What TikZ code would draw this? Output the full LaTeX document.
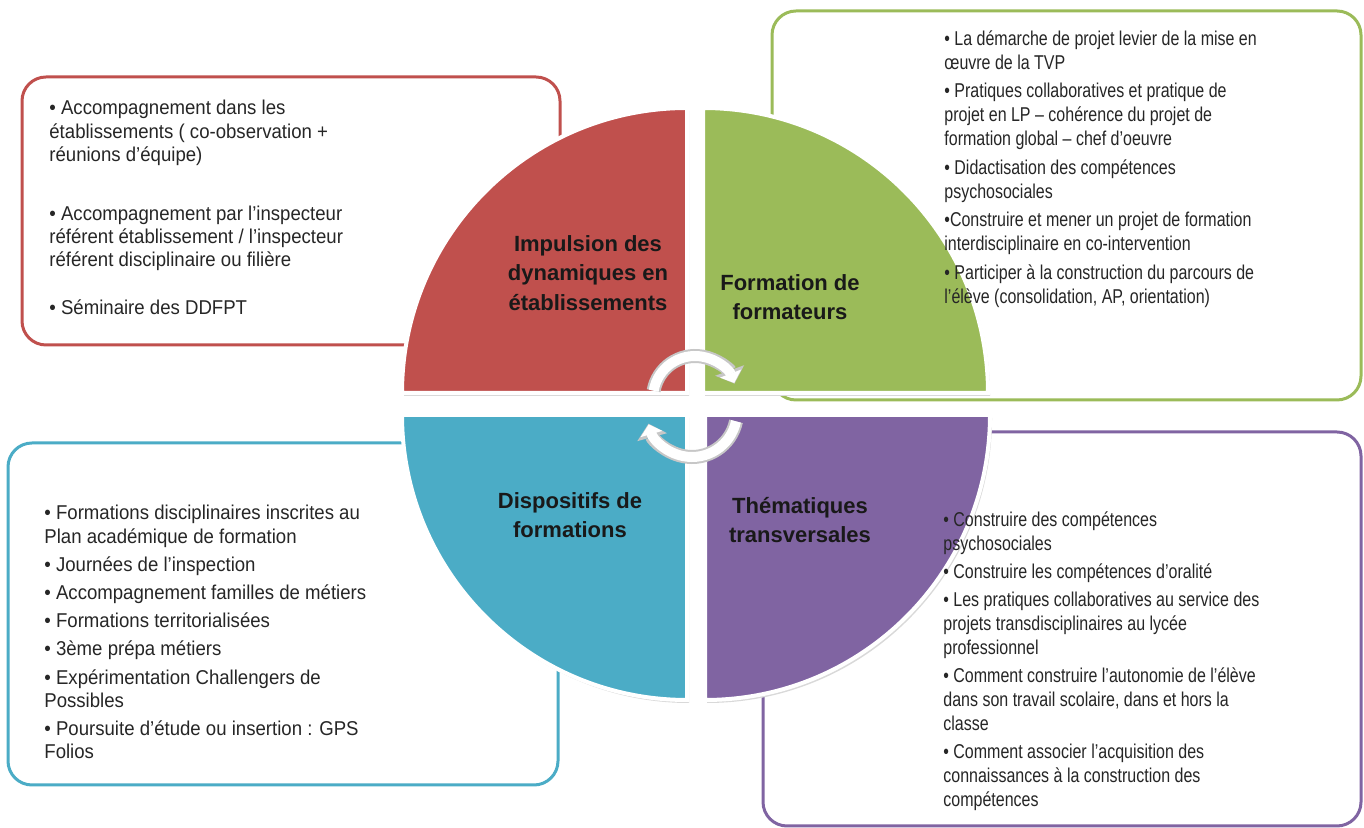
\documentclass[tikz,border=0pt]{standalone}
\usepackage{fontspec}
\setmainfont{Liberation Sans}
\newfontfamily\midsans{Liberation Sans}[FakeStretch=0.93]
\newfontfamily\narrowsans{Liberation Sans}[FakeStretch=0.8]
\usetikzlibrary{arrows.meta}
\definecolor{cr}{HTML}{C0504D}
\definecolor{cg}{HTML}{9BBB59}
\definecolor{cb}{HTML}{4BACC6}
\definecolor{cp}{HTML}{8064A2}
\definecolor{ink}{HTML}{262626}
\tikzset{
  infobox/.style={draw=#1,line width=1.5pt,rounded corners=12pt,fill=white},
  quarter/.style={fill=#1,draw=white,line width=2pt},
  items/.style={anchor=north west,inner sep=0pt,align=left,text=ink},
  wideitems/.style={items,font=\midsans\fontsize{10}{11.6}\selectfont},
  narrowitems/.style={items,font=\narrowsans\fontsize{10}{12}\selectfont},
  quadtitle/.style={align=center,inner sep=0pt,text=black!90,font=\bfseries\fontsize{11}{14.75}\selectfont},
}

\begin{document}
\begin{tikzpicture}[x=0.5pt,y=0.5pt]
  \useasboundingbox (0,0) rectangle (1364,828);
  % frames behind the disc
  \draw[infobox=cr] (22,483) rectangle (560,751);
  \draw[infobox=cg] (772,428) rectangle (1361,817);
  \draw[infobox=cb] (8,43) rectangle (558,385);
  \draw[infobox=cp] (763,2) rectangle (1361,396);
  % the four quarters
  \foreach \cx/\cy/\a in {687/435/90, 703/435/0, 687/413/180, 705/413/270}
    \fill[black!15] (\cx+2,\cy-3) -- ++(\a:285) arc (\a:\a+90:285) -- cycle;
  \foreach \cx/\cy/\a/\col in {687/435/90/cr, 703/435/0/cg, 687/413/180/cb, 705/413/270/cp}
    \filldraw[quarter=\col] (\cx,\cy) -- ++(\a:285) arc (\a:\a+90:285) -- cycle;
  \node[quadtitle] (impulsion) at (588,555) {Impulsion des\\dynamiques en\\établissements};
  \node[quadtitle] (formation) at (790,531) {Formation de\\formateurs};
  \node[quadtitle] (dispositifs) at (570,313) {Dispositifs de\\formations};
  \node[quadtitle] (thematiques) at (800,308) {Thématiques\\transversales};
  % cycle in the middle
  \draw[line width=7pt,draw=black!22,-{Triangle[width=15pt,length=7pt]}] ([shift={(170:42)}]695,430) arc (170:20:42);
  \draw[line width=5pt,draw=white,-{Triangle[width=11pt,length=5pt]}] ([shift={(170:42)}]695,430) arc (170:21:42);
  \draw[line width=7pt,draw=black!22,-{Triangle[width=15pt,length=7pt]}] ([shift={(-12:45)}]692,416) arc (-12:-165:45);
  \draw[line width=5pt,draw=white,-{Triangle[width=11pt,length=5pt]}] ([shift={(-12:45)}]692,416) arc (-12:-164:45);
  % lists
  \node[wideitems] (impulsion items) at (49,728) {• Accompagnement dans les\\établissements ( co-observation +\\réunions d’équipe)\\[18pt]• Accompagnement par l’inspecteur\\référent établissement / l’inspecteur\\référent disciplinaire ou filière\\[12pt]• Séminaire des DDFPT};
  \node[narrowitems] (formation items) at (944,798) {• La démarche de projet levier de la mise en\\œuvre de la TVP\\[2.25pt]• Pratiques collaboratives et pratique de\\projet en LP – cohérence du projet de\\formation global – chef d’oeuvre\\[2.25pt]• Didactisation des compétences\\psychosociales\\[2.25pt]•Construire et mener un projet de formation\\interdisciplinaire en co-intervention\\[2.25pt]• Participer à la construction du parcours de\\l’élève (consolidation, AP, orientation)};
  \node[wideitems] (dispositifs items) at (44,323) {• Formations disciplinaires inscrites au\\Plan académique de formation\\[2.5pt]• Journées de l’inspection\\[2.5pt]• Accompagnement familles de métiers\\[2.5pt]• Formations territorialisées\\[2.5pt]• 3ème prépa métiers\\[2.5pt]• Expérimentation Challengers de\\Possibles\\[2.5pt]• Poursuite d’étude ou insertion : GPS\\Folios};
  \node[narrowitems] (thematiques items) at (943,317) {• Construire des compétences\\psychosociales\\[2pt]• Construire les compétences d’oralité\\[2pt]• Les pratiques collaboratives au service des\\projets transdisciplinaires au lycée\\professionnel\\[2pt]• Comment construire l’autonomie de l’élève\\dans son travail scolaire, dans et hors la\\classe\\[2pt]• Comment associer l’acquisition des\\connaissances à la construction des\\compétences};
\end{tikzpicture}
\end{document}
